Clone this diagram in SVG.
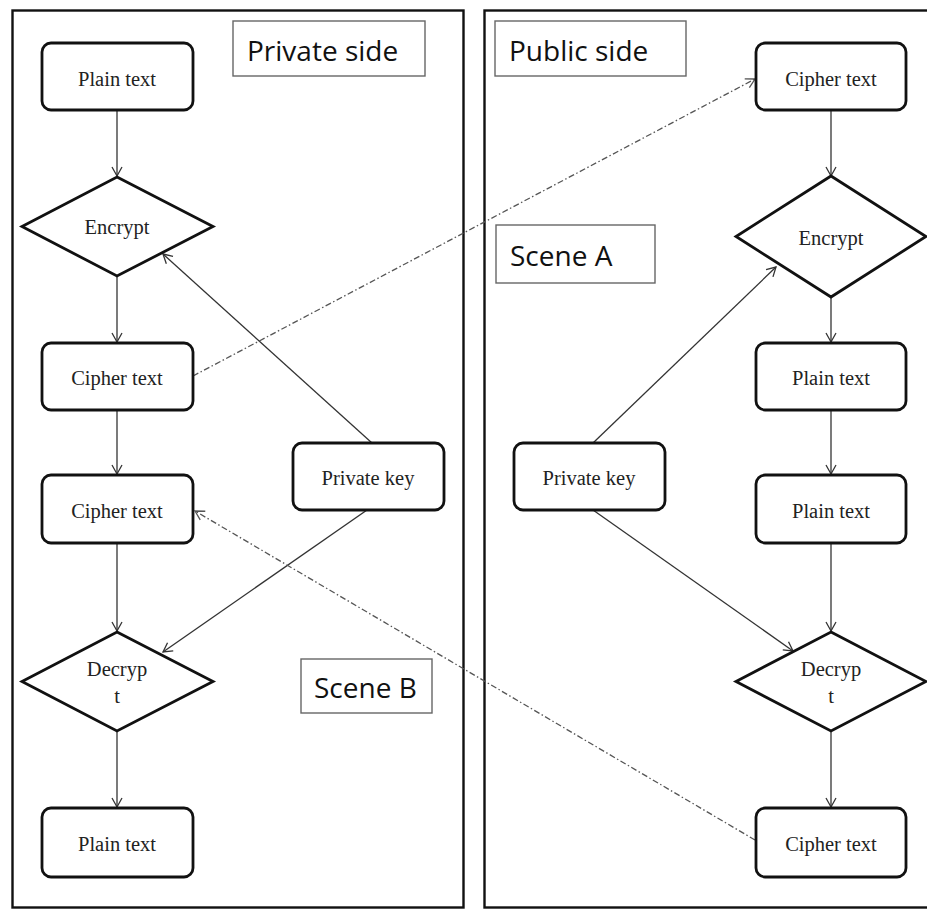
<svg xmlns="http://www.w3.org/2000/svg" width="927" height="909" viewBox="0 0 927 909">
<style>
.panel{fill:none;stroke:#111;stroke-width:2.4}
.lbl rect{fill:#fff;stroke:#666;stroke-width:1.4}
.lbl text{font-family:"Open Sans","Liberation Sans",sans-serif;font-size:28px;fill:#111}
.box{fill:#fff;stroke:#111;stroke-width:2.8}
.node text{font-family:"Liberation Serif",serif;font-size:20.5px;fill:#222;text-anchor:middle}
.ln{fill:none;stroke:#333;stroke-width:1.3}
.dash{fill:none;stroke:#555;stroke-width:1.3;stroke-dasharray:6 2.5 1.5 2.5}
</style>
<defs>
<marker id="arr" markerWidth="12" markerHeight="12" refX="10" refY="6" orient="auto" markerUnits="userSpaceOnUse">
<path d="M1,1 L10,6 L1,11" fill="none" stroke="#333" stroke-width="1.3"/>
</marker>
<marker id="arrd" markerWidth="12" markerHeight="12" refX="10" refY="6" orient="auto" markerUnits="userSpaceOnUse">
<path d="M1,1 L10,6 L1,11" fill="none" stroke="#555" stroke-width="1.3"/>
</marker>
</defs>
<rect width="927" height="909" fill="#fff"/>
<rect class="panel" x="12.5" y="10.5" width="451" height="897"/>
<rect class="panel" x="484.5" y="10.5" width="450" height="897"/>

<g id="label-private-side" class="lbl"><rect x="233" y="21" width="192" height="55"/><text x="247" y="61">Private side</text></g>
<g id="label-public-side" class="lbl"><rect x="495" y="21" width="191" height="55"/><text x="509" y="61">Public side</text></g>
<g id="label-scene-a" class="lbl"><rect x="496" y="225" width="159" height="58"/><text x="510" y="266">Scene A</text></g>
<g id="label-scene-b" class="lbl"><rect x="301" y="659" width="131" height="54"/><text x="314" y="698">Scene B</text></g>

<g id="connectors">
<line class="ln" x1="117" y1="110" x2="117" y2="176" marker-end="url(#arr)"/>
<line class="ln" x1="117" y1="276" x2="117" y2="342" marker-end="url(#arr)"/>
<line class="ln" x1="117" y1="410" x2="117" y2="474" marker-end="url(#arr)"/>
<line class="ln" x1="117" y1="543" x2="117" y2="631" marker-end="url(#arr)"/>
<line class="ln" x1="117" y1="731" x2="117" y2="807" marker-end="url(#arr)"/>
<line class="ln" x1="372" y1="443" x2="163" y2="254" marker-end="url(#arr)"/>
<line class="ln" x1="367" y1="510" x2="163" y2="652" marker-end="url(#arr)"/>
<line class="ln" x1="831" y1="110" x2="831" y2="176" marker-end="url(#arr)"/>
<line class="ln" x1="831" y1="297" x2="831" y2="342" marker-end="url(#arr)"/>
<line class="ln" x1="831" y1="410" x2="831" y2="474" marker-end="url(#arr)"/>
<line class="ln" x1="831" y1="543" x2="831" y2="631" marker-end="url(#arr)"/>
<line class="ln" x1="831" y1="731" x2="831" y2="807" marker-end="url(#arr)"/>
<line class="ln" x1="593" y1="443" x2="776" y2="267" marker-end="url(#arr)"/>
<line class="ln" x1="593" y1="510" x2="793" y2="651" marker-end="url(#arr)"/>
<line class="dash" x1="193" y1="376" x2="755" y2="79" marker-end="url(#arrd)"/>
<line class="dash" x1="755" y1="840" x2="195" y2="511" marker-end="url(#arrd)"/>
</g>

<g id="l-plain-1" class="node"><rect class="box" x="42" y="43" width="151" height="67" rx="9"/><text x="117" y="86">Plain text</text></g>
<g id="l-encrypt" class="node"><polygon class="box" points="117,177 213,226.5 117,276 22,226.5"/><text x="117" y="234">Encrypt</text></g>
<g id="l-cipher-1" class="node"><rect class="box" x="42" y="343" width="151" height="67" rx="9"/><text x="117" y="385">Cipher text</text></g>
<g id="l-cipher-2" class="node"><rect class="box" x="42" y="475" width="151" height="68" rx="9"/><text x="117" y="518">Cipher text</text></g>
<g id="l-private-key" class="node"><rect class="box" x="293" y="443" width="151" height="67" rx="9"/><text x="368" y="485">Private key</text></g>
<g id="l-decrypt" class="node"><polygon class="box" points="117,632 213,681.5 117,731 22,681.5"/><text x="117" y="676">Decryp</text><text x="117" y="703">t</text></g>
<g id="l-plain-2" class="node"><rect class="box" x="42" y="808" width="151" height="69" rx="9"/><text x="117" y="851">Plain text</text></g>

<g id="r-cipher-1" class="node"><rect class="box" x="756" y="43" width="150" height="67" rx="9"/><text x="831" y="86">Cipher text</text></g>
<g id="r-encrypt" class="node"><polygon class="box" points="831,176 926,236.5 831,297 736,236.5"/><text x="831" y="245">Encrypt</text></g>
<g id="r-plain-1" class="node"><rect class="box" x="756" y="343" width="150" height="67" rx="9"/><text x="831" y="385">Plain text</text></g>
<g id="r-plain-2" class="node"><rect class="box" x="756" y="475" width="150" height="68" rx="9"/><text x="831" y="518">Plain text</text></g>
<g id="r-private-key" class="node"><rect class="box" x="514" y="443" width="151" height="67" rx="9"/><text x="589" y="485">Private key</text></g>
<g id="r-decrypt" class="node"><polygon class="box" points="831,632 926,681.5 831,731 736,681.5"/><text x="831" y="676">Decryp</text><text x="831" y="703">t</text></g>
<g id="r-cipher-2" class="node"><rect class="box" x="756" y="808" width="150" height="69" rx="9"/><text x="831" y="851">Cipher text</text></g>
</svg>
